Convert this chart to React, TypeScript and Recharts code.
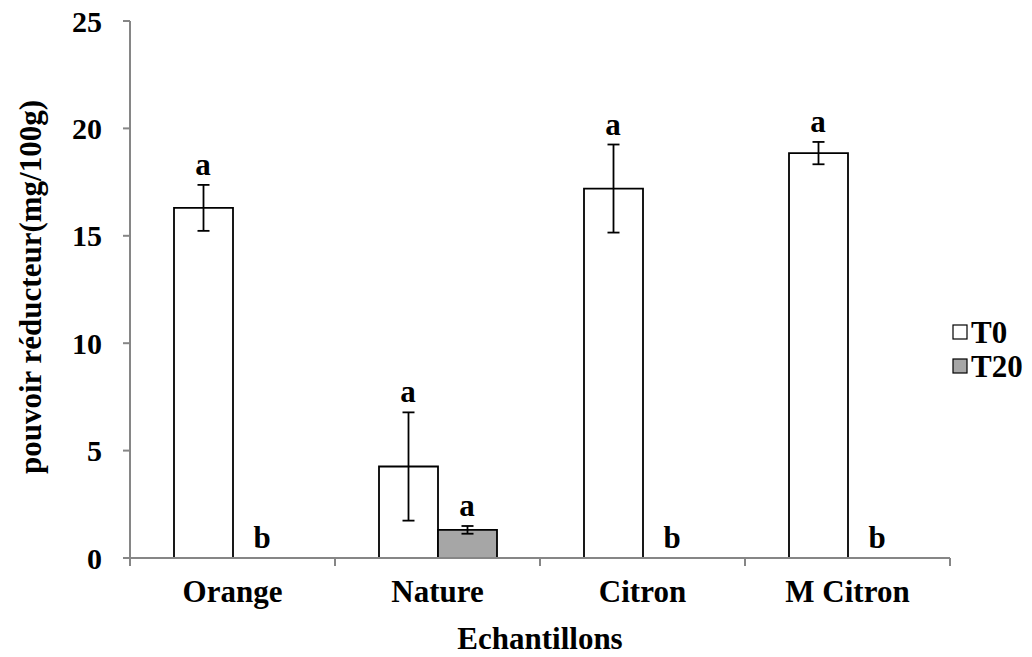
import React from 'react'
import { BarChart, Bar, XAxis, YAxis, ErrorBar } from 'recharts'

const categories = ['Orange', 'Nature', 'Citron', 'M Citron']
const t0Values = [16.3, 4.26, 17.2, 18.85]
const t0Errors = [1.07, 2.52, 2.05, 0.52]
const t20Values = [0, 1.31, 0, 0]
const t20Errors = [0, 0.18, 0, 0]
const t0Letters = ['a', 'a', 'a', 'a']
const t20Letters = ['b', 'a', 'b', 'b']
const yTicks = [0, 5, 10, 15, 20, 25]

const data = categories.map((name, i) => ({
  name,
  t0: t0Values[i],
  t0Err: t0Errors[i],
  t20: t20Values[i],
  t20Err: t20Errors[i],
}))

const W = 1032
const H = 657
const PLOT_LEFT = 130
const PLOT_RIGHT = 950
const PLOT_TOP = 21
const PLOT_BOTTOM = 558
const BAR = 59
const BAND = (PLOT_RIGHT - PLOT_LEFT) / categories.length
const PPU = (PLOT_BOTTOM - PLOT_TOP) / 25
const FONT = '"Liberation Serif", "Times New Roman", serif'
const AXIS = '#868686'

const textStyle = { fontFamily: FONT, fontWeight: 'bold' as const, fill: '#000' }

// category tick: boundary tick marks, the name, and the significance letters above each bar
const XTick = (props: any) => {
  const { x, index, payload } = props
  const letterY = (v: number, e: number) => PLOT_BOTTOM - (v + e) * PPU - 10
  return (
    <g>
      <line x1={x - BAND / 2} y1={PLOT_BOTTOM} x2={x - BAND / 2} y2={PLOT_BOTTOM + 8} stroke={AXIS} strokeWidth={2} />
      {index === categories.length - 1 && (
        <line x1={x + BAND / 2} y1={PLOT_BOTTOM} x2={x + BAND / 2} y2={PLOT_BOTTOM + 8} stroke={AXIS} strokeWidth={2} />
      )}
      <text x={x} y={602} textAnchor="middle" fontSize={31} {...textStyle}>
        {payload.value}
      </text>
      <text x={x - BAR / 2} y={letterY(t0Values[index], t0Errors[index])} textAnchor="middle" fontSize={31} {...textStyle}>
        {t0Letters[index]}
      </text>
      <text x={x + BAR / 2} y={letterY(t20Values[index], t20Errors[index])} textAnchor="middle" fontSize={31} {...textStyle}>
        {t20Letters[index]}
      </text>
    </g>
  )
}

const legendItems = [
  { name: 'T0', fill: '#ffffff', y: 332 },
  { name: 'T20', fill: '#a6a6a6', y: 366 },
]

export default function App() {
  return (
    <div style={{ position: 'absolute', left: 0, top: 0, width: W, height: H, background: '#fff' }}>
      <BarChart
        width={W}
        height={H}
        data={data}
        margin={{ top: PLOT_TOP, right: W - PLOT_RIGHT, left: 0, bottom: 0 }}
        barGap={0}
        barSize={BAR}
      >
        <XAxis
          dataKey="name"
          height={H - PLOT_BOTTOM}
          axisLine={{ stroke: AXIS, strokeWidth: 2 }}
          tickLine={false}
          tick={<XTick />}
          interval={0}
        />
        <YAxis
          width={PLOT_LEFT}
          domain={[0, 25]}
          ticks={yTicks}
          interval={0}
          axisLine={{ stroke: AXIS, strokeWidth: 2 }}
          tickLine={{ stroke: AXIS, strokeWidth: 2 }}
          tickSize={7}
          tickMargin={21}
          tick={{ fill: '#000', fontSize: 30, fontWeight: 'bold', fontFamily: FONT }}
        />
        <Bar dataKey="t0" name="T0" fill="#ffffff" stroke="#000" strokeWidth={1.8} isAnimationActive={false}>
          <ErrorBar dataKey="t0Err" width={6} stroke="#000" strokeWidth={1.8} direction="y" />
        </Bar>
        <Bar dataKey="t20" name="T20" fill="#a6a6a6" stroke="#000" strokeWidth={1.8} isAnimationActive={false}>
          <ErrorBar dataKey="t20Err" width={6} stroke="#000" strokeWidth={1.8} direction="y" />
        </Bar>
      </BarChart>
      <svg width={W} height={H} style={{ position: 'absolute', left: 0, top: 0, pointerEvents: 'none' }}>
        <text
          x={30}
          y={287}
          transform="rotate(-90 30 287)"
          textAnchor="middle"
          dominantBaseline="central"
          fontSize={31}
          {...textStyle}
        >
          pouvoir réducteur(mg/100g)
        </text>
        <text x={(PLOT_LEFT + PLOT_RIGHT) / 2} y={649} textAnchor="middle" fontSize={31} {...textStyle}>
          Echantillons
        </text>
        {legendItems.map((item) => (
          <g key={item.name}>
            <rect x={953} y={item.y - 7} width={14} height={14} fill={item.fill} stroke="#000" strokeWidth={1.2} />
            <text x={971} y={item.y} dominantBaseline="central" fontSize={31} {...textStyle}>
              {item.name}
            </text>
          </g>
        ))}
      </svg>
    </div>
  )
}
